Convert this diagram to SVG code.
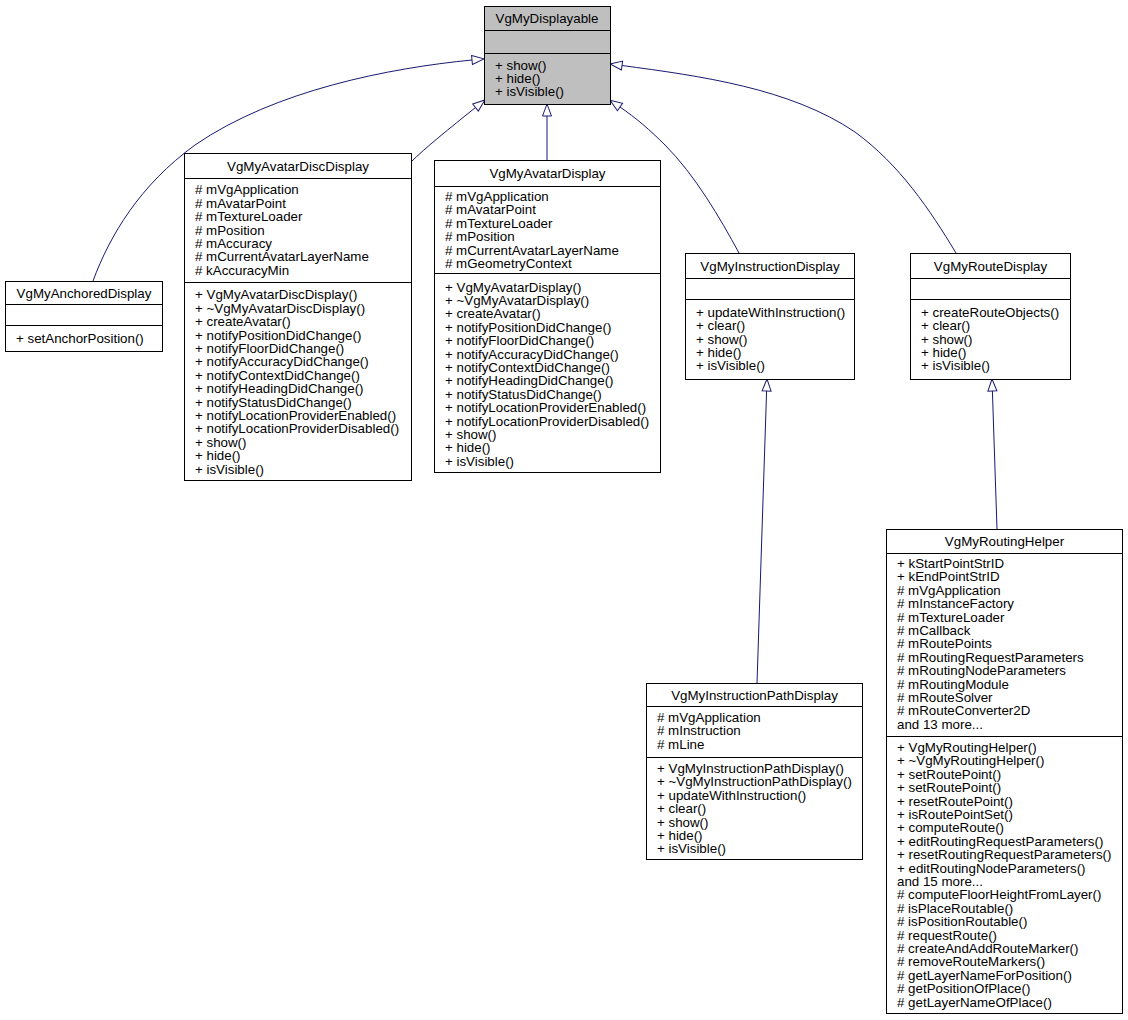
<svg xmlns="http://www.w3.org/2000/svg" width="1128" height="1020" viewBox="0 0 1128 1020">
<style>
.box{fill:#ffffff;stroke:#000000;stroke-width:1}
.gray{fill:#bfbfbf;stroke:#000000;stroke-width:1}
.div{stroke:#000000;stroke-width:1}
text{font-family:"Liberation Sans",Arial,Helvetica,sans-serif;font-size:13.33px;fill:#000000}
.t{text-anchor:middle}
.edge{fill:none;stroke:#191970;stroke-width:1}
</style>
<defs>
<marker id="tri" viewBox="0 0 13 10" refX="0" refY="5" markerWidth="13" markerHeight="10" markerUnits="userSpaceOnUse" orient="auto" overflow="visible">
<path d="M0,0.5 L12,5 L0,9.5 z" fill="#ffffff" stroke="#191970" stroke-width="1"/>
</marker>
</defs>
<rect width="1128" height="1020" fill="#ffffff"/>

<g id="connectors">
<path class="edge" d="M93,281 C110,235 140,185 195,145 C275,90 390,68 472,60" marker-end="url(#tri)"/>
<path class="edge" d="M411,162 C425,148 450,128 475.5,107.5" marker-end="url(#tri)"/>
<path class="edge" d="M547,160 L547,116" marker-end="url(#tri)"/>
<path class="edge" d="M739,253 C720,218 695,175 665,145 C650,130 636,118 620,107" marker-end="url(#tri)"/>
<path class="edge" d="M956,253 C930,210 900,165 855,132 C790,88 700,76 622,65.5" marker-end="url(#tri)"/>
<path class="edge" d="M757,683 L766.6,391" marker-end="url(#tri)"/>
<path class="edge" d="M997,529 L992.4,391" marker-end="url(#tri)"/>
</g>

<g id="VgMyDisplayable">
<rect class="gray" x="484.5" y="6.5" width="126" height="98"/>
<line class="div" x1="484.5" y1="30.5" x2="610.5" y2="30.5"/>
<line class="div" x1="484.5" y1="53.5" x2="610.5" y2="53.5"/>
<text class="t" x="547" y="22.5">VgMyDisplayable</text>
<text x="495" y="69.6">+ show()<tspan x="495" dy="13.4">+ hide()</tspan><tspan x="495" dy="13.4">+ isVisible()</tspan></text>
</g>

<g id="VgMyAnchoredDisplay">
<rect class="box" x="5.5" y="281.5" width="157" height="70"/>
<line class="div" x1="5.5" y1="304.5" x2="162.5" y2="304.5"/>
<line class="div" x1="5.5" y1="325.5" x2="162.5" y2="325.5"/>
<text class="t" x="84" y="297.5">VgMyAnchoredDisplay</text>
<text x="16" y="342.5">+ setAnchorPosition()</text>
</g>

<g id="VgMyAvatarDiscDisplay">
<rect class="box" x="184.5" y="153.5" width="227" height="327"/>
<line class="div" x1="184.5" y1="178.5" x2="411.5" y2="178.5"/>
<line class="div" x1="184.5" y1="282.5" x2="411.5" y2="282.5"/>
<text class="t" x="298" y="170.5">VgMyAvatarDiscDisplay</text>
<text x="195" y="194.3"># mVgApplication<tspan x="195" dy="13.4"># mAvatarPoint</tspan><tspan x="195" dy="13.4"># mTextureLoader</tspan><tspan x="195" dy="13.4"># mPosition</tspan><tspan x="195" dy="13.4"># mAccuracy</tspan><tspan x="195" dy="13.4"># mCurrentAvatarLayerName</tspan><tspan x="195" dy="13.4"># kAccuracyMin</tspan></text>
<text x="195" y="299.4">+ VgMyAvatarDiscDisplay()<tspan x="195" dy="13.4">+ ~VgMyAvatarDiscDisplay()</tspan><tspan x="195" dy="13.4">+ createAvatar()</tspan><tspan x="195" dy="13.4">+ notifyPositionDidChange()</tspan><tspan x="195" dy="13.4">+ notifyFloorDidChange()</tspan><tspan x="195" dy="13.4">+ notifyAccuracyDidChange()</tspan><tspan x="195" dy="13.4">+ notifyContextDidChange()</tspan><tspan x="195" dy="13.4">+ notifyHeadingDidChange()</tspan><tspan x="195" dy="13.4">+ notifyStatusDidChange()</tspan><tspan x="195" dy="13.4">+ notifyLocationProviderEnabled()</tspan><tspan x="195" dy="13.4">+ notifyLocationProviderDisabled()</tspan><tspan x="195" dy="13.4">+ show()</tspan><tspan x="195" dy="13.4">+ hide()</tspan><tspan x="195" dy="13.4">+ isVisible()</tspan></text>
</g>

<g id="VgMyAvatarDisplay">
<rect class="box" x="434.5" y="160.5" width="226" height="312"/>
<line class="div" x1="434.5" y1="186.5" x2="660.5" y2="186.5"/>
<line class="div" x1="434.5" y1="273.5" x2="660.5" y2="273.5"/>
<text class="t" x="547.5" y="177.5">VgMyAvatarDisplay</text>
<text x="445" y="200.9"># mVgApplication<tspan x="445" dy="13.4"># mAvatarPoint</tspan><tspan x="445" dy="13.4"># mTextureLoader</tspan><tspan x="445" dy="13.4"># mPosition</tspan><tspan x="445" dy="13.4"># mCurrentAvatarLayerName</tspan><tspan x="445" dy="13.4"># mGeometryContext</tspan></text>
<text x="445" y="291.5">+ VgMyAvatarDisplay()<tspan x="445" dy="13.4">+ ~VgMyAvatarDisplay()</tspan><tspan x="445" dy="13.4">+ createAvatar()</tspan><tspan x="445" dy="13.4">+ notifyPositionDidChange()</tspan><tspan x="445" dy="13.4">+ notifyFloorDidChange()</tspan><tspan x="445" dy="13.4">+ notifyAccuracyDidChange()</tspan><tspan x="445" dy="13.4">+ notifyContextDidChange()</tspan><tspan x="445" dy="13.4">+ notifyHeadingDidChange()</tspan><tspan x="445" dy="13.4">+ notifyStatusDidChange()</tspan><tspan x="445" dy="13.4">+ notifyLocationProviderEnabled()</tspan><tspan x="445" dy="13.4">+ notifyLocationProviderDisabled()</tspan><tspan x="445" dy="13.4">+ show()</tspan><tspan x="445" dy="13.4">+ hide()</tspan><tspan x="445" dy="13.4">+ isVisible()</tspan></text>
</g>

<g id="VgMyInstructionDisplay">
<rect class="box" x="685.5" y="253.5" width="169" height="126"/>
<line class="div" x1="685.5" y1="278.5" x2="854.5" y2="278.5"/>
<line class="div" x1="685.5" y1="299.5" x2="854.5" y2="299.5"/>
<text class="t" x="770" y="270.5">VgMyInstructionDisplay</text>
<text x="696" y="316.7">+ updateWithInstruction()<tspan x="696" dy="13.4">+ clear()</tspan><tspan x="696" dy="13.4">+ show()</tspan><tspan x="696" dy="13.4">+ hide()</tspan><tspan x="696" dy="13.4">+ isVisible()</tspan></text>
</g>

<g id="VgMyRouteDisplay">
<rect class="box" x="910.5" y="253.5" width="160" height="126"/>
<line class="div" x1="910.5" y1="278.5" x2="1070.5" y2="278.5"/>
<line class="div" x1="910.5" y1="299.5" x2="1070.5" y2="299.5"/>
<text class="t" x="990.5" y="270.5">VgMyRouteDisplay</text>
<text x="921" y="316.7">+ createRouteObjects()<tspan x="921" dy="13.4">+ clear()</tspan><tspan x="921" dy="13.4">+ show()</tspan><tspan x="921" dy="13.4">+ hide()</tspan><tspan x="921" dy="13.4">+ isVisible()</tspan></text>
</g>

<g id="VgMyInstructionPathDisplay">
<rect class="box" x="646.5" y="683.5" width="216" height="176"/>
<line class="div" x1="646.5" y1="706.5" x2="862.5" y2="706.5"/>
<line class="div" x1="646.5" y1="757.5" x2="862.5" y2="757.5"/>
<text class="t" x="754.5" y="699.5">VgMyInstructionPathDisplay</text>
<text x="657" y="722"># mVgApplication<tspan x="657" dy="13.4"># mInstruction</tspan><tspan x="657" dy="13.4"># mLine</tspan></text>
<text x="657" y="773">+ VgMyInstructionPathDisplay()<tspan x="657" dy="13.4">+ ~VgMyInstructionPathDisplay()</tspan><tspan x="657" dy="13.4">+ updateWithInstruction()</tspan><tspan x="657" dy="13.4">+ clear()</tspan><tspan x="657" dy="13.4">+ show()</tspan><tspan x="657" dy="13.4">+ hide()</tspan><tspan x="657" dy="13.4">+ isVisible()</tspan></text>
</g>

<g id="VgMyRoutingHelper">
<rect class="box" x="886.5" y="529.5" width="236" height="484"/>
<line class="div" x1="886.5" y1="553.5" x2="1122.5" y2="553.5"/>
<line class="div" x1="886.5" y1="736.5" x2="1122.5" y2="736.5"/>
<text class="t" x="1004.5" y="545.5">VgMyRoutingHelper</text>
<text x="897" y="568">+ kStartPointStrID<tspan x="897" dy="13.4">+ kEndPointStrID</tspan><tspan x="897" dy="13.4"># mVgApplication</tspan><tspan x="897" dy="13.4"># mInstanceFactory</tspan><tspan x="897" dy="13.4"># mTextureLoader</tspan><tspan x="897" dy="13.4"># mCallback</tspan><tspan x="897" dy="13.4"># mRoutePoints</tspan><tspan x="897" dy="13.4"># mRoutingRequestParameters</tspan><tspan x="897" dy="13.4"># mRoutingNodeParameters</tspan><tspan x="897" dy="13.4"># mRoutingModule</tspan><tspan x="897" dy="13.4"># mRouteSolver</tspan><tspan x="897" dy="13.4"># mRouteConverter2D</tspan><tspan x="897" dy="13.4">and 13 more...</tspan></text>
<text x="897" y="752">+ VgMyRoutingHelper()<tspan x="897" dy="13.4">+ ~VgMyRoutingHelper()</tspan><tspan x="897" dy="13.4">+ setRoutePoint()</tspan><tspan x="897" dy="13.4">+ setRoutePoint()</tspan><tspan x="897" dy="13.4">+ resetRoutePoint()</tspan><tspan x="897" dy="13.4">+ isRoutePointSet()</tspan><tspan x="897" dy="13.4">+ computeRoute()</tspan><tspan x="897" dy="13.4">+ editRoutingRequestParameters()</tspan><tspan x="897" dy="13.4">+ resetRoutingRequestParameters()</tspan><tspan x="897" dy="13.4">+ editRoutingNodeParameters()</tspan><tspan x="897" dy="13.4">and 15 more...</tspan><tspan x="897" dy="13.4"># computeFloorHeightFromLayer()</tspan><tspan x="897" dy="13.4"># isPlaceRoutable()</tspan><tspan x="897" dy="13.4"># isPositionRoutable()</tspan><tspan x="897" dy="13.4"># requestRoute()</tspan><tspan x="897" dy="13.4"># createAndAddRouteMarker()</tspan><tspan x="897" dy="13.4"># removeRouteMarkers()</tspan><tspan x="897" dy="13.4"># getLayerNameForPosition()</tspan><tspan x="897" dy="13.4"># getPositionOfPlace()</tspan><tspan x="897" dy="13.4"># getLayerNameOfPlace()</tspan></text>
</g>
</svg>
